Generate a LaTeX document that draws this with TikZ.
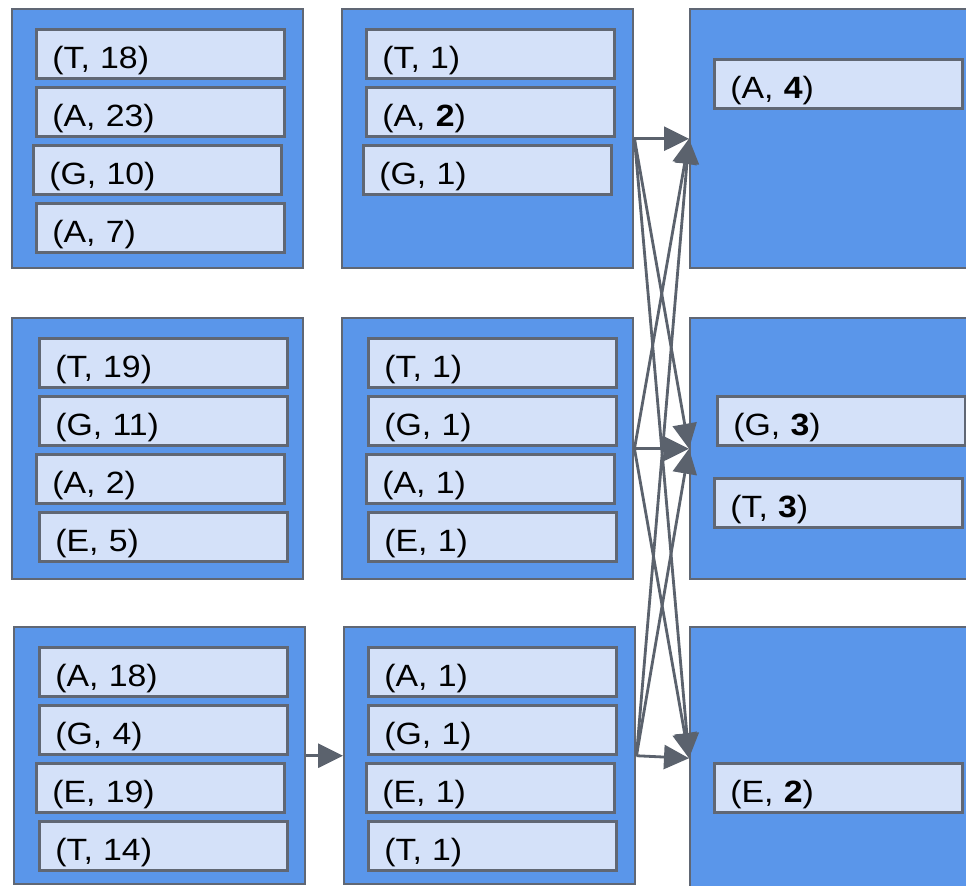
\documentclass[tikz,border=0pt]{standalone}
\usepackage{fontspec}
\setmainfont{Liberation Sans}[FakeStretch=1.1]
\usetikzlibrary{arrows.meta,calc}
\definecolor{groupBlue}{HTML}{5A96EA}
\definecolor{pairFill}{HTML}{D4E1F9}
\definecolor{edgeGray}{HTML}{606774}
\definecolor{flowGray}{HTML}{5B626D}

\begin{document}
\begin{tikzpicture}[
  font=\fontsize{17.5}{21}\selectfont,
  group/.style={draw=edgeGray, fill=groupBlue, line width=1.4pt, anchor=north west, minimum width=5.82cm, minimum height=5.18cm, inner sep=0pt},
  pair/.style={draw=edgeGray, fill=pairFill, line width=1.5pt, anchor=north west, inner xsep=0.32cm, inner ysep=0pt, text width=4.32cm, align=left, text height=0.78cm, text depth=0.2cm},
  flow/.style={-{Triangle[length=0.5cm, width=0.48cm]}, line width=1.6pt, draw=flowGray}
]
\path[use as bounding box, clip] (0,0) rectangle (19.32,-17.7);

% ------------------------------------------------------------------
% group boxes: map output, combiner output, reducer input
% ------------------------------------------------------------------
\node[group] (map1) at (0.22,-0.16) {};
\node[group] (comb1) at (6.82,-0.16) {};
\node[group, minimum width=5.6cm] (red1) at (13.78,-0.16) {};
\node[group, minimum height=5.22cm] (map2) at (0.22,-6.34) {};
\node[group, minimum height=5.22cm] (comb2) at (6.82,-6.34) {};
\node[group, minimum width=5.6cm, minimum height=5.22cm] (red2) at (13.78,-6.34) {};
\node[group, minimum height=5.14cm] (map3) at (0.26,-12.52) {};
\node[group, minimum height=5.14cm] (comb3) at (6.86,-12.52) {};
\node[group, minimum width=5.6cm, minimum height=5.24cm] (red3) at (13.78,-12.52) {};

% ------------------------------------------------------------------
% key/value pairs
% ------------------------------------------------------------------
\foreach \txt/\dx [count=\k] in {{(T, 18)}/0.48, {(A, 23)}/0.48, {(G, 10)}/0.42, {(A, 7)}/0.48}
  \node[pair] (map1-\k) at ($(map1.north west)+(\dx,{0.76-1.16*\k})$) {\txt};
\foreach \txt/\dx [count=\k] in {{(T, 1)}/0.48, {(A, \textbf{2})}/0.48, {(G, 1)}/0.42}
  \node[pair] (comb1-\k) at ($(comb1.north west)+(\dx,{0.76-1.16*\k})$) {\txt};
\node[pair] (red1-1) at ($(red1.north west)+(0.48,-1.0)$) {(A, \textbf{4})};

\foreach \txt/\dx [count=\k] in {{(T, 19)}/0.54, {(G, 11)}/0.54, {(A, 2)}/0.48, {(E, 5)}/0.54}
  \node[pair] (map2-\k) at ($(map2.north west)+(\dx,{0.76-1.16*\k})$) {\txt};
\foreach \txt/\dx [count=\k] in {{(T, 1)}/0.52, {(G, 1)}/0.52, {(A, 1)}/0.48, {(E, 1)}/0.52}
  \node[pair] (comb2-\k) at ($(comb2.north west)+(\dx,{0.76-1.16*\k})$) {\txt};
\node[pair] (red2-1) at ($(red2.north west)+(0.54,-1.56)$) {(G, \textbf{3})};
\node[pair] (red2-2) at ($(red2.north west)+(0.48,-3.2)$) {(T, \textbf{3})};

\foreach \txt/\dx [count=\k] in {{(A, 18)}/0.50, {(G, 4)}/0.50, {(E, 19)}/0.44, {(T, 14)}/0.50}
  \node[pair] (map3-\k) at ($(map3.north west)+(\dx,{0.76-1.16*\k})$) {\txt};
\foreach \txt/\dx [count=\k] in {{(A, 1)}/0.48, {(G, 1)}/0.48, {(E, 1)}/0.44, {(T, 1)}/0.48}
  \node[pair] (comb3-\k) at ($(comb3.north west)+(\dx,{0.76-1.16*\k})$) {\txt};
\node[pair] (red3-1) at ($(red3.north west)+(0.48,-2.72)$) {(E, \textbf{2})};

% ------------------------------------------------------------------
% shuffle
% ------------------------------------------------------------------
\draw[flow] (map3.east) -- (comb3.west);
\foreach \s in {1,2,3}
  \foreach \t in {1,2,3}
    \draw[flow] (comb\s.east) -- (red\t.west);

\end{tikzpicture}
\end{document}
